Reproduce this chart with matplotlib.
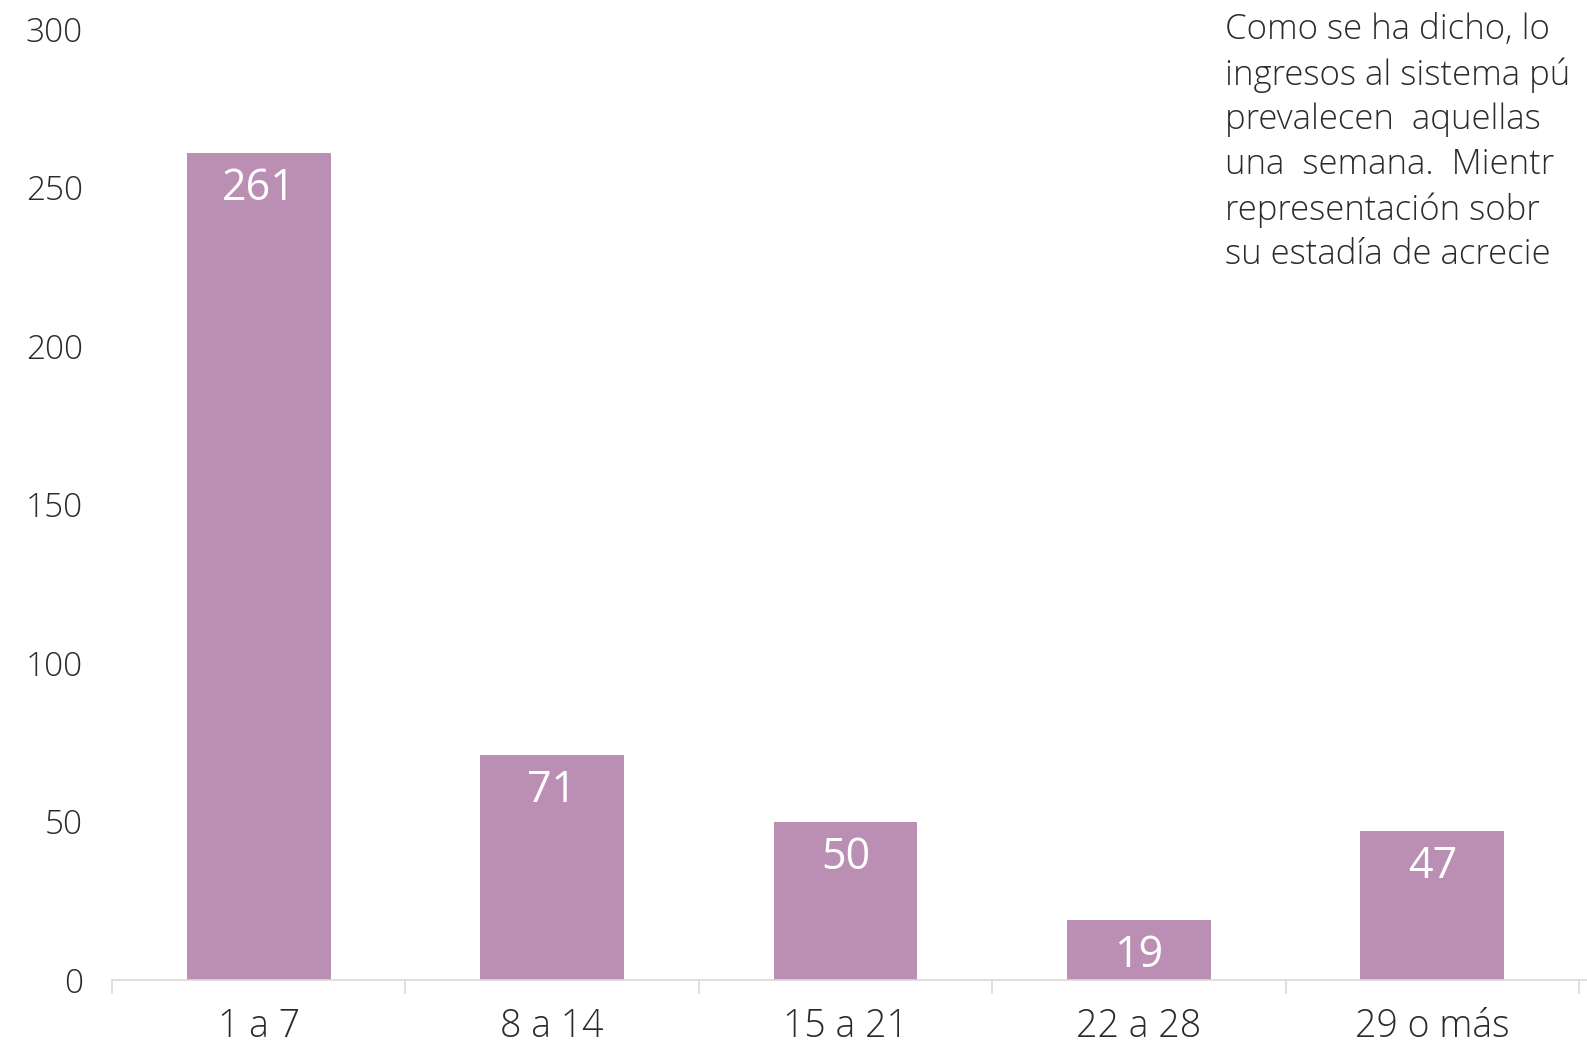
import matplotlib
matplotlib.use("Agg")
import matplotlib.pyplot as plt
from matplotlib.ticker import FixedLocator

categories = ["1 a 7", "8 a 14", "15 a 21", "22 a 28", "29 o más"]
values = [261, 71, 50, 19, 47]
y_ticks = [0, 50, 100, 150, 200, 250, 300]
side_text = [
    "Como se ha dicho, lo",
    "ingresos al sistema pú",
    "prevalecen  aquellas",
    "una  semana.  Mientr",
    "representación sobr",
    "su estadía de acrecie",
]

BAR = "#bb8fb4"
TXT = "#2b2b2b"
W, H = 1587, 1061

plt.rcParams["font.family"] = ["Open Sans", "DejaVu Sans"]

fig = plt.figure(figsize=(W / 100, H / 100), dpi=100)
ax = fig.add_axes([112 / W, (H - 980) / H, (W - 112) / W, (980 - 29) / H])

x = list(range(len(categories)))
bars = ax.bar(x, values, width=0.49, color=BAR)

for rect, v in zip(bars, values):
    ax.annotate(str(v), (rect.get_x() + rect.get_width() / 2, v),
                xytext=(0, -26), textcoords="offset points",
                ha="center", va="center", color="white",
                fontsize=31)

ax.set_xlim(-0.5, 4.5 + 8 / 293.4)
ax.set_ylim(0, 300)
ax.set_yticks(y_ticks)
ax.set_yticklabels([str(t) for t in y_ticks], fontsize=24,
                   fontweight="light", color=TXT)
ax.set_xticks(x)
ax.set_xticklabels(categories, fontsize=27, fontweight="light", color=TXT)
ax.tick_params(axis="x", which="major", length=0, pad=20)
ax.tick_params(axis="y", length=0, pad=21)
ax.xaxis.set_minor_locator(FixedLocator([i - 0.5 for i in range(6)]))
ax.tick_params(axis="x", which="minor", length=10, color="#d9d9d9", width=1.2)

for s in ["top", "right", "left"]:
    ax.spines[s].set_visible(False)
ax.spines["bottom"].set_color("#d9d9d9")
ax.spines["bottom"].set_linewidth(1.2)

for i, line in enumerate(side_text):
    fig.text(1225 / W, 1 - (30 + 45 * i) / H, line, fontsize=25,
             fontweight="light", color=TXT, ha="left", va="center")

fig.savefig("out.png", dpi=100)
